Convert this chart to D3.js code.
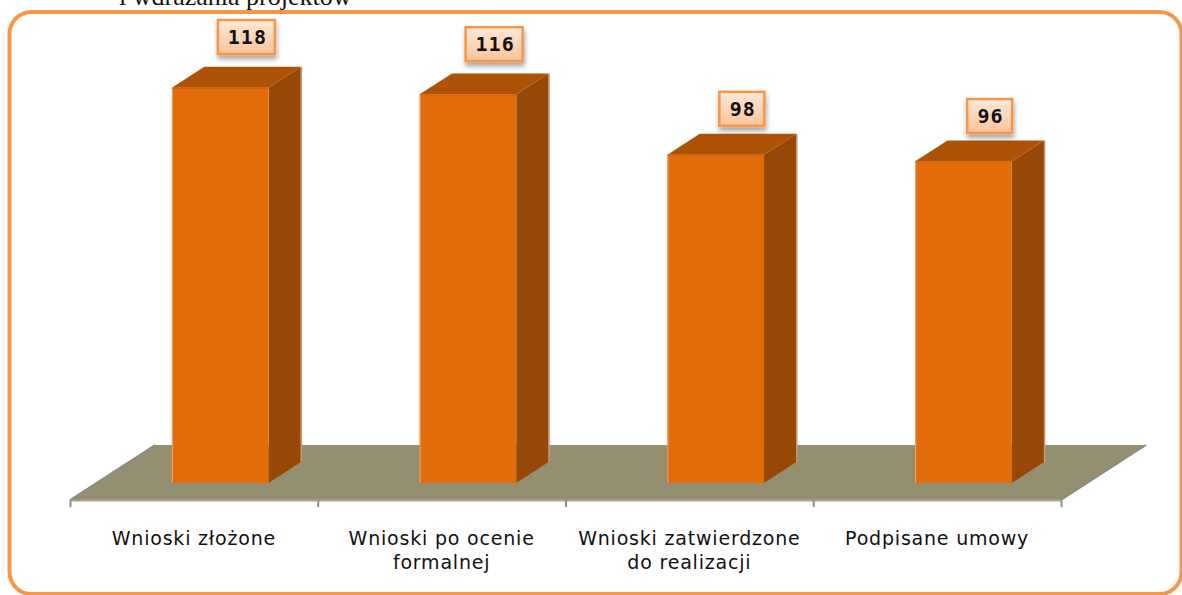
<!DOCTYPE html>
<html>
<head>
<meta charset="utf-8">
<script src="https://cdn.jsdelivr.net/npm/d3@7"></script>
<style>
  html, body { margin: 0; padding: 0; background: #fff; }
  svg { display: block; }
</style>
</head>
<body>
<div class="chart"></div>
<script>
// data
const categories = ['Wnioski złożone', 'Wnioski po ocenie formalnej', 'Wnioski zatwierdzone do realizacji', 'Podpisane umowy'];
const labelLines = [['Wnioski złożone'], ['Wnioski po ocenie', 'formalnej'], ['Wnioski zatwierdzone', 'do realizacji'], ['Podpisane umowy']];
const values = [118, 116, 98, 96];
const titleText = 'i wdrażania projektów';

const W = 1182, H = 595;

const svg = d3.select('.chart').append('svg').attr('width', W).attr('height', H);

const defs = svg.append('defs');
const grad = defs.append('linearGradient').attr('id', 'lblGrad')
  .attr('x1', 0).attr('y1', 0).attr('x2', 0).attr('y2', 1);
grad.append('stop').attr('offset', '0%').attr('stop-color', '#fee9da');
grad.append('stop').attr('offset', '100%').attr('stop-color', '#fbc398');
const shadow = defs.append('filter').attr('id', 'shadow')
  .attr('x', '-30%').attr('y', '-30%').attr('width', '160%').attr('height', '170%');
shadow.append('feDropShadow').attr('dx', 1).attr('dy', 4).attr('stdDeviation', 2.5)
  .attr('flood-color', '#000').attr('flood-opacity', 0.35);

// title, cut off by the top of the page (as in the source image)
svg.append('text')
  .attr('x', 119).attr('y', 5)
  .attr('font-family', '"Liberation Serif", serif')
  .attr('font-size', 26)
  .attr('fill', '#111')
  .text(titleText);

// orange frame
svg.append('rect')
  .attr('x', 9.5).attr('y', 12).attr('width', 1172).attr('height', 582)
  .attr('rx', 22).attr('ry', 22)
  .attr('fill', 'none').attr('stroke', '#f79646').attr('stroke-width', 4);

// scales
const x = d3.scaleBand().domain(categories).range([70, 1061])
  .paddingInner(0.61).paddingOuter(0.305);
const y = d3.scaleLinear().domain([0, 120]).range([500, 98]);
// label boxes sit a little higher than the bars scale
const yLbl = d3.scaleLinear().domain([96, 118]).range([133, 54]);

// floor depth
const depth = { dx: 85, dy: -55 };
const f0 = 0.31, f1 = 0.69; // bar front / back as fraction of floor depth
const [x0, x1] = x.range();
const yFloor = y(0);

// floor
svg.append('polygon')
  .attr('points', [
    [x0, yFloor], [x1, yFloor],
    [x1 + depth.dx, yFloor + depth.dy], [x0 + depth.dx, yFloor + depth.dy]
  ].map(p => p.join(',')).join(' '))
  .attr('fill', '#958f72');
svg.append('line')
  .attr('x1', x0).attr('y1', yFloor).attr('x2', x0 + depth.dx).attr('y2', yFloor + depth.dy)
  .attr('stroke', '#8a8a80').attr('stroke-width', 1.5);
svg.append('line')
  .attr('x1', x1).attr('y1', yFloor).attr('x2', x1 + depth.dx).attr('y2', yFloor + depth.dy)
  .attr('stroke', '#8a8a80').attr('stroke-width', 1.5);

// axis along the front edge
const axisG = svg.append('g').attr('transform', `translate(0,${yFloor})`);
axisG.append('line').attr('x1', x0).attr('x2', x1).attr('y1', 0.5).attr('y2', 0.5)
  .attr('stroke', '#a6a6a6').attr('stroke-width', 2);
const tickXs = categories.map(c => x(c) - x.step() * x.paddingInner() / 2).concat([x1]);
axisG.selectAll('.tick').data(tickXs).enter().append('line')
  .attr('class', 'tick')
  .attr('x1', d => d + 0.5).attr('x2', d => d + 0.5)
  .attr('y1', 0).attr('y2', 7)
  .attr('stroke', '#8c8c8c').attr('stroke-width', 2);

// bars
const bw = x.bandwidth();
const fdx = depth.dx * f0, fdy = depth.dy * f0;
const bdx = depth.dx * (f1 - f0), bdy = depth.dy * (f1 - f0);

const bars = svg.selectAll('.bar').data(values).enter().append('g').attr('class', 'bar');

bars.each(function (v, i) {
  const g = d3.select(this);
  const left = x(categories[i]) + fdx;
  const right = left + bw;
  const bottom = y(0) + fdy;
  const top = y(v) + fdy;
  // side
  g.append('polygon')
    .attr('points', [[right, top], [right + bdx, top + bdy], [right + bdx, bottom + bdy], [right, bottom]]
      .map(p => p.join(',')).join(' '))
    .attr('fill', '#974806');
  // top
  g.append('polygon')
    .attr('points', [[left, top], [left + bdx, top + bdy], [right + bdx, top + bdy], [right, top]]
      .map(p => p.join(',')).join(' '))
    .attr('fill', '#ae5305');
  // front
  g.append('rect')
    .attr('x', left).attr('y', top).attr('width', bw).attr('height', bottom - top)
    .attr('fill', '#e36c0a');
  // thin light edges
  g.append('line')
    .attr('x1', left + 0.5).attr('x2', left + 0.5).attr('y1', top).attr('y2', bottom)
    .attr('stroke', '#f2a56a').attr('stroke-width', 1);
  g.append('line')
    .attr('x1', right + bdx + 0.5).attr('x2', right + bdx + 0.5).attr('y1', top + bdy).attr('y2', bottom + bdy)
    .attr('stroke', '#c79a70').attr('stroke-width', 1.5);
  g.append('line')
    .attr('x1', left).attr('x2', right).attr('y1', top + 0.5).attr('y2', top + 0.5)
    .attr('stroke', '#c8600a').attr('stroke-width', 1);
});

// value labels
const lbl = svg.selectAll('.val').data(values).enter().append('g').attr('class', 'val');
lbl.each(function (v, i) {
  const g = d3.select(this);
  const txt = String(v);
  const bwid = txt.length === 3 ? 57 : 45;
  const bh = 34;
  const cx = x(categories[i]) + bw / 2 + fdx + bdx / 2 + 10;
  const by = yLbl(v);
  g.append('rect')
    .attr('x', cx - bwid / 2).attr('y', by - bh).attr('width', bwid).attr('height', bh)
    .attr('fill', 'url(#lblGrad)')
    .attr('stroke', '#f79646').attr('stroke-width', 2.5)
    .attr('filter', 'url(#shadow)');
  g.append('text')
    .attr('x', cx + 1).attr('y', by - bh / 2 + 7)
    .attr('text-anchor', 'middle')
    .attr('font-family', '"DejaVu Sans Mono", monospace')
    .attr('font-weight', 'bold')
    .attr('font-size', 20)
    .attr('letter-spacing', 1)
    .attr('fill', '#111')
    .text(txt);
});

// category labels
const cat = svg.selectAll('.cat').data(categories).enter().append('text')
  .attr('class', 'cat')
  .attr('x', d => x(d) + bw / 2)
  .attr('y', 545)
  .attr('text-anchor', 'middle')
  .attr('font-family', '"DejaVu Sans", sans-serif')
  .attr('font-size', 19)
  .attr('letter-spacing', 0.8)
  .attr('fill', '#111');
cat.each(function (d, i) {
  const t = d3.select(this);
  labelLines[i].forEach((ln, k) => {
    t.append('tspan').attr('x', x(d) + bw / 2).attr('dy', k === 0 ? 0 : 23.5).text(ln);
  });
});
</script>
</body>
</html>
